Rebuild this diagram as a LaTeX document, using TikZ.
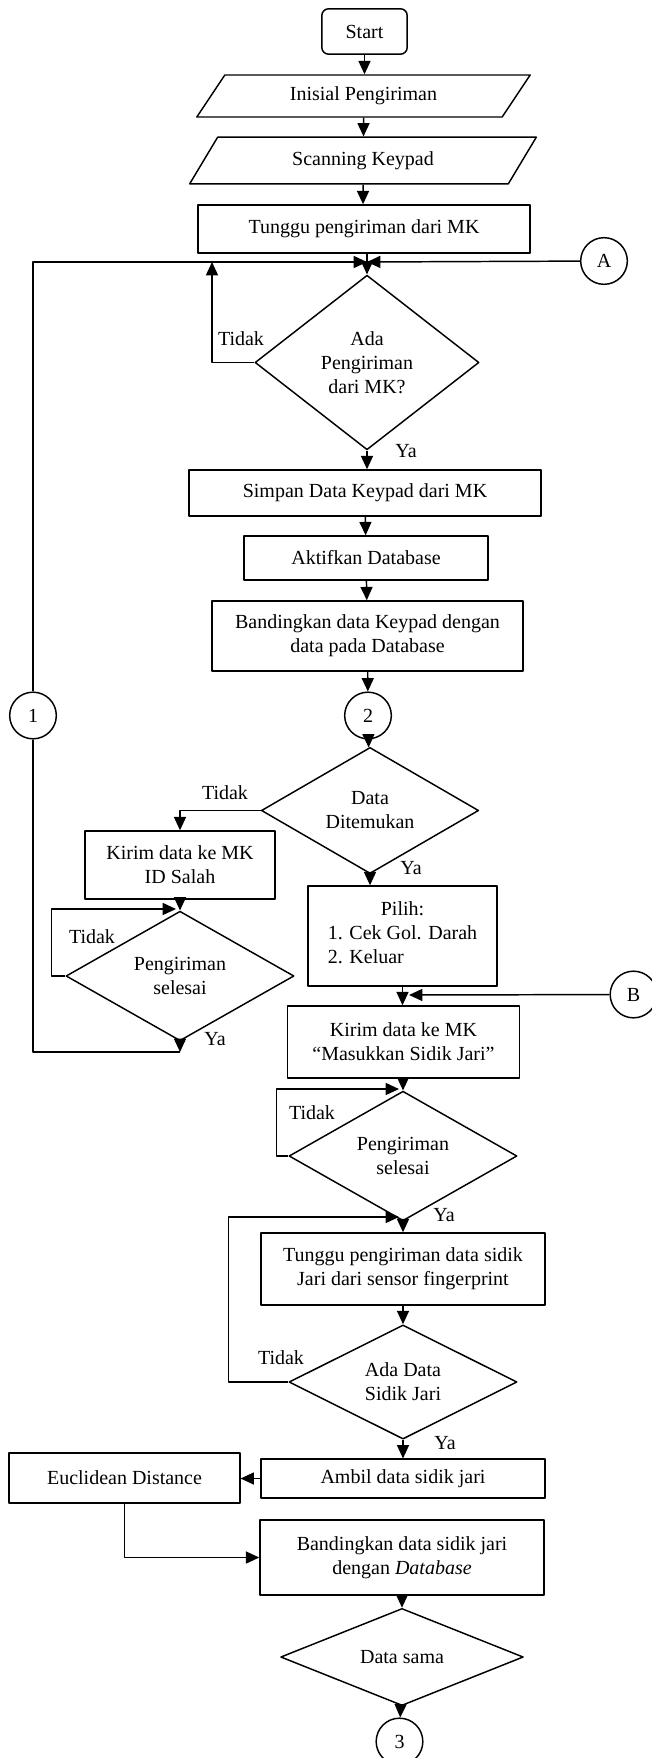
\documentclass[tikz,border=0pt]{standalone}
\usepackage{fontspec}
\setmainfont{Liberation Serif}
\usetikzlibrary{shapes.geometric,arrows.meta}
\begin{document}
\begin{tikzpicture}[x=0.75pt,y=-0.75pt,line join=round,>={Triangle[length=10pt,width=9pt]},line width=1.1pt]
	\tikzset{every node/.style={font=\fontsize{15}{18}\selectfont,inner sep=0pt,align=center},
		proc/.style={draw,rectangle},
		io/.style={draw,trapezium,trapezium left angle=33,trapezium right angle=147,trapezium stretches body},
		decision/.style={draw,diamond},
		conn/.style={draw,circle,minimum size=35pt},
		lbl/.style={}}
	\useasboundingbox (0,0) rectangle (652,1758);
	% top part
	\node[draw,rounded corners=5pt,minimum width=64pt,minimum height=34pt] (start) at (364.5,31.5) {Start};
	\node[io,minimum width=250pt,minimum height=31.5pt] (init) at (363.5,96) {Inisial Pengiriman};
	\node[io,minimum width=260pt,minimum height=35pt] (scan) at (363,160.5) {Scanning Keypad};
	\node[proc,minimum width=249pt,minimum height=36pt] (wait) at (364,229) {Tunggu pengiriman dari MK};
	\coordinate (m1) at (367,262);
	\coordinate (t1) at (212,262);
	\node[conn] (A) at (604,261) {A};
	\node[decision,minimum width=168pt,minimum height=131pt] (d1) at (367,362.5) {Ada\\Pengiriman\\dari MK?};
	\node[lbl] (tidak1) at (241,339) {Tidak};
	\node[lbl] (ya1) at (406,451) {Ya};
	\node[proc,minimum width=264pt,minimum height=34.5pt] (save) at (365,493) {Simpan Data Keypad dari MK};
	\node[proc,minimum width=183pt,minimum height=33pt] (db) at (366,558) {Aktifkan Database};
	\node[proc,minimum width=233pt,minimum height=52.5pt] (cmp) at (367.5,636) {Bandingkan data Keypad dengan\\data pada Database};
	\node[conn] (c2) at (368,715.5) {2};
	\node[conn] (c1) at (33,715.5) {1};
	% data ditemukan
	\node[decision,minimum width=163pt,minimum height=82pt] (d2) at (370,810.5) {Data\\Ditemukan};
	\node[lbl] (tidak2) at (225,793) {Tidak};
	\node[lbl] (ya2) at (411,868) {Ya};
	\node[proc,minimum width=142.5pt,minimum height=51pt] (idbad) at (180,865) {Kirim data ke MK\\ID Salah};
	\node[decision,minimum width=171pt,minimum height=82.5pt] (d3) at (180,976) {Pengiriman\\selesai};
	\node[lbl] (tidak3) at (92,937) {Tidak};
	\node[lbl] (ya3) at (215,1039) {Ya};
	\coordinate (lp3) at (176,909);
	\coordinate (j1) at (180,1052);
	\node[proc,minimum width=142pt,minimum height=75pt] (choose) at (402.5,936) {Pilih:\\\begin{tabular}[t]{@{}l@{}}1. Cek Gol. Darah\\2. Keluar\end{tabular}};
	\coordinate (m2) at (409,995);
	\node[conn] (B) at (633.5,994.5) {B};
	\node[proc,minimum width=174pt,minimum height=54pt] (ask) at (403.5,1042) {Kirim data ke MK\\“Masukkan Sidik Jari”};
	\coordinate (m3) at (399,1089);
	\node[decision,minimum width=171pt,minimum height=84pt] (d4) at (403,1156) {Pengiriman\\selesai};
	\node[lbl] (tidak4) at (312,1113) {Tidak};
	\node[lbl] (ya4) at (444,1215) {Ya};
	\coordinate (m4) at (399,1217);
	% sidik jari
	\node[proc,minimum width=213pt,minimum height=54pt] (waitfp) at (403,1269) {Tunggu pengiriman data sidik\\Jari dari sensor fingerprint};
	\node[decision,minimum width=171pt,minimum height=82.5pt] (d5) at (403,1382) {Ada Data\\Sidik Jari};
	\node[lbl] (tidak5) at (281,1358) {Tidak};
	\node[lbl] (ya5) at (445,1443) {Ya};
	\node[proc,minimum width=213pt,minimum height=29pt] (take) at (403,1478.5) {Ambil data sidik jari};
	\node[proc,minimum width=173pt,minimum height=37.5pt] (eucl) at (124.5,1478) {Euclidean Distance};
	\node[proc,minimum width=213pt,minimum height=56pt] (cmpfp) at (402,1557.5) {Bandingkan data sidik jari\\dengan \textit{Database}};
	\node[decision,minimum width=182pt,minimum height=60pt] (d6) at (402,1657) {Data sama};
	\node[conn] (c3) at (399.5,1741.5) {3};
	% connectors
	\draw[->] (start) -- (start.south |- init.north);
	\draw[->] (init) -- (init.south |- scan.north);
	\draw[->] (scan) -- (scan.south |- wait.north);
	\draw[->] (wait.south -| d1.north) -- (d1.north);
	\draw[->] (A) -- (m1);
	\draw[->] (c1) |- (m1);
	\draw[->] (d1.west) -| (t1);
	\draw[->] (d1.south) -- (d1.south |- save.north);
	\draw[->] (save) -- (db);
	\draw[->] (db) -- (cmp);
	\draw[->] (cmp) -- (c2);
	\draw[->] (c2) -- (d2);
	\draw[->] (d2.west) -| (idbad.north);
	\draw[->] (d2.south) -- (d2.south |- choose.north);
	\draw[->] (idbad) -- (d3);
	\draw[->] (d3.west) -- ++(-14,0) |- (lp3);
	\draw[->] (d3.south) -- (j1);
	\draw (j1) -| (c1.south);
	\draw[->] (choose.south) -- (choose.south |- ask.north);
	\draw[->] (B) -- (m2);
	\draw[->] (ask.south -| d4.north) -- (d4.north);
	\draw[->] (d4.west) -- ++(-12,0) |- (m3);
	\draw[->] (d4.south) -- (d4.south |- waitfp.north);
	\draw[->] (d5.west) -- ++(-60,0) |- (m4);
	\draw[->] (waitfp) -- (d5);
	\draw[->] (d5.south) -- (d5.south |- take.north);
	\draw[->] (take.west) -- (take.west -| eucl.east);
	\draw[->] (eucl.south) |- (cmpfp.west);
	\draw[->] (cmpfp) -- (d6);
	\draw[->] (d6) -- (c3);
\end{tikzpicture}
\end{document}
